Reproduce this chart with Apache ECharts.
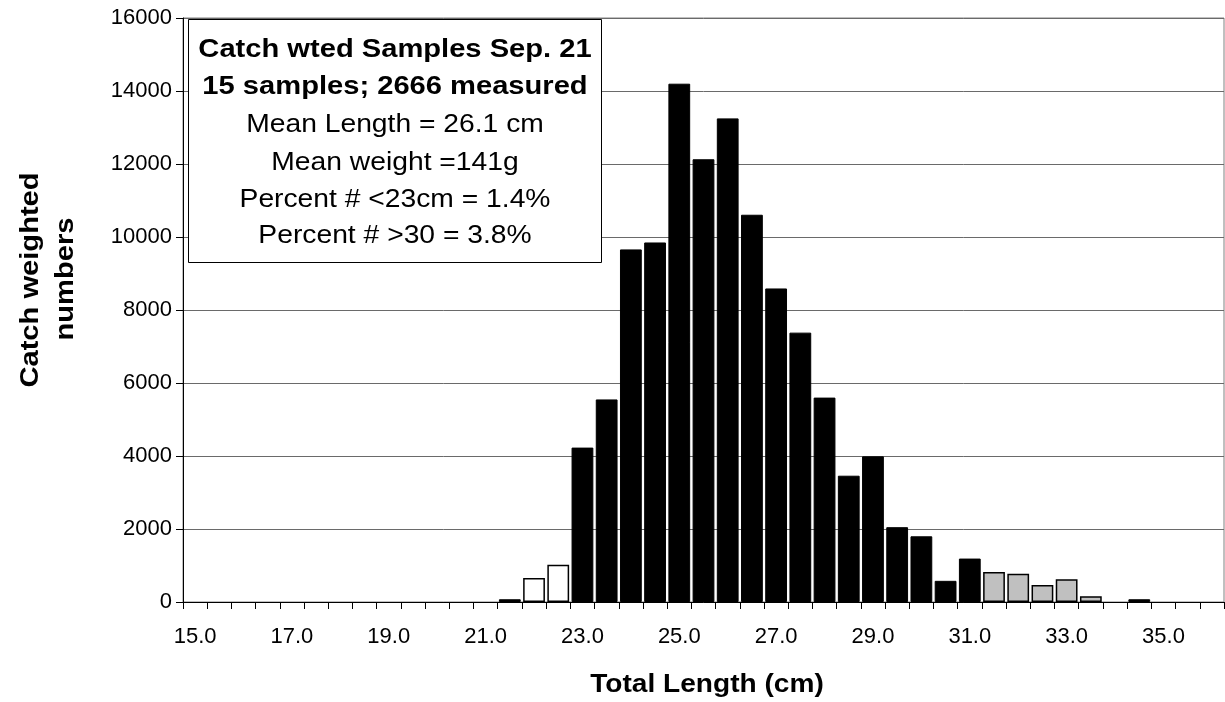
<!DOCTYPE html>
<html>
<head>
<meta charset="utf-8">
<script src="https://cdn.jsdelivr.net/npm/echarts@6/dist/echarts.min.js"></script>
<style>
html,body{margin:0;padding:0;background:#fff;}
#chart{width:1225px;height:702px;}
</style>
</head>
<body>
<div id="chart"></div>
<script>
// Length classes (cm)
const categories = ['15.0','15.5','16.0','16.5','17.0','17.5','18.0','18.5','19.0','19.5','20.0','20.5','21.0','21.5','22.0','22.5','23.0','23.5','24.0','24.5','25.0','25.5','26.0','26.5','27.0','27.5','28.0','28.5','29.0','29.5','30.0','30.5','31.0','31.5','32.0','32.5','33.0','33.5','34.0','34.5','35.0','35.5','36.0'];
// main (black) bars
const mainCounts = [null,null,null,null,null,null,null,null,null,null,null,null,null,75,null,null,4230,5550,9660,9850,14200,12130,13250,10610,8590,7380,5600,3460,3990,2050,1800,580,1190,null,null,null,null,null,null,75,null,null,null];
// small fish (white) bars
const smallCounts = [null,null,null,null,null,null,null,null,null,null,null,null,null,null,660,1020,null,null,null,null,null,null,null,null,null,null,null,null,null,null,null,null,null,null,null,null,null,null,null,null,null,null,null];
// large fish (grey) bars
const largeCounts = [null,null,null,null,null,null,null,null,null,null,null,null,null,null,null,null,null,null,null,null,null,null,null,null,null,null,null,null,null,null,null,null,null,820,775,465,620,160,null,null,null,null,null];
const yTicks = {min:0, max:16000, interval:2000};
const boxLines = [
  {text:'Catch wted Samples Sep. 21', bold:true},
  {text:'15 samples; 2666 measured', bold:true},
  {text:'Mean Length = 26.1 cm', bold:false},
  {text:'Mean weight =141g', bold:false},
  {text:'Percent # <23cm = 1.4%', bold:false},
  {text:'Percent # >30 = 3.8%', bold:false}
];
const xTitle = 'Total Length (cm)';
const yTitle = ['Catch weighted','numbers'];

const FONT = "'Liberation Sans', Arial, sans-serif";
const chart = echarts.init(document.getElementById('chart'));

const lineY = [50, 87, 125, 163, 200, 236];
const graphics = [
  {type:'rect', shape:{x:188.5, y:19.5, width:413, height:243}, style:{fill:'#fff', stroke:'#000', lineWidth:1}, z:100}
];
boxLines.forEach((l, i) => {
  graphics.push({
    type:'text', x:395, y:lineY[i], scaleX: l.bold ? 1.12 : 1.13, z:101,
    style:{text:l.text, align:'center', verticalAlign:'middle', textAlign:'center', textVerticalAlign:'middle',
      font:(l.bold ? 'bold 26px ' : '25px ') + FONT, fill:'#000'}
  });
});
graphics.push({
  type:'text', x:707, y:685, scaleX:1.08, z:101,
  style:{text:xTitle, align:'center', verticalAlign:'middle', textAlign:'center', textVerticalAlign:'middle',
    font:'bold 26px ' + FONT, fill:'#000'}
});
graphics.push({
  type:'text', x:31, y:280, rotation:Math.PI/2, scaleX:1.12, z:101,
  style:{text:yTitle[0], align:'center', verticalAlign:'middle', textAlign:'center', textVerticalAlign:'middle',
    font:'bold 26px ' + FONT, fill:'#000'}
});
graphics.push({
  type:'text', x:66, y:279, rotation:Math.PI/2, scaleX:1.12, z:101,
  style:{text:yTitle[1], align:'center', verticalAlign:'middle', textAlign:'center', textVerticalAlign:'middle',
    font:'bold 26px ' + FONT, fill:'#000'}
});

const barBase = {type:'bar', stack:'all', barCategoryGap:'10%', animation:false};

chart.setOption({
  backgroundColor:'#fff',
  animation:false,
  grid:{left:183, right:1, top:18, bottom:100, show:true, borderColor:'#808080', borderWidth:1, containLabel:false},
  xAxis:{
    type:'category', data:categories, boundaryGap:true,
    axisLine:{show:true, lineStyle:{color:'#000', width:1}},
    axisTick:{show:true, interval:0, length:7, inside:false, alignWithLabel:false, lineStyle:{color:'#000'}},
    axisLabel:{interval:3, color:'#000', fontSize:22, fontFamily:FONT, margin:24},
    splitLine:{show:false}
  },
  yAxis:{
    type:'value', min:yTicks.min, max:yTicks.max, interval:yTicks.interval,
    axisLine:{show:true, lineStyle:{color:'#000', width:1}},
    axisTick:{show:true, length:7, inside:false, lineStyle:{color:'#000'}},
    axisLabel:{color:'#000', fontSize:22, fontFamily:FONT, margin:11, formatter:(v) => String(v)},
    splitLine:{show:true, lineStyle:{color:'#6a6a6a', width:1}}
  },
  series:[
    Object.assign({}, barBase, {name:'main', data:mainCounts, itemStyle:{color:'#000', borderColor:'#000', borderWidth:1}}),
    Object.assign({}, barBase, {name:'small', data:smallCounts, itemStyle:{color:'#fff', borderColor:'#000', borderWidth:1.5}}),
    Object.assign({}, barBase, {name:'large', data:largeCounts, itemStyle:{color:'#c0c0c0', borderColor:'#000', borderWidth:1.5}})
  ],
  graphic:graphics
});
</script>
</body>
</html>
